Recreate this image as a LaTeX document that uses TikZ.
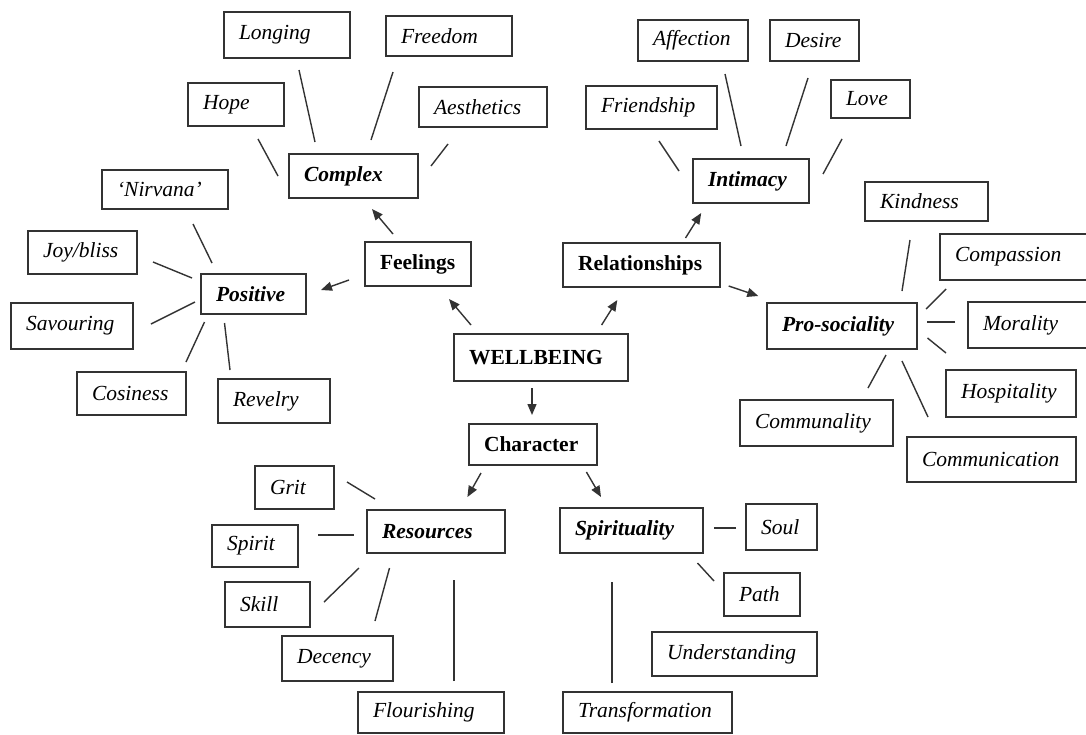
\documentclass[tikz,border=0pt]{standalone}
\usepackage{fontspec}
\setmainfont{Liberation Serif}
\usetikzlibrary{arrows.meta}
\newcommand\mybox[7]{%
  \pgfmathsetmacro\mbw{#4-#2-30}%
  \pgfmathsetmacro\mbh{#5-#3}%
  \node[#6, text width=\mbw pt, minimum height=\mbh pt] (#1) at ({(#2+#4)/2},{(#3+#5)/2}) {#7};%
}
\begin{document}
\begin{tikzpicture}[x=1pt,y=-1pt,
  bx/.style={draw=black!80, line width=1.4pt, inner xsep=15pt, inner ysep=0pt, align=left},
  itm/.style={bx, font=\fontsize{21.5}{24}\selectfont\itshape},
  sub/.style={bx, font=\fontsize{21.5}{24}\selectfont\bfseries\itshape},
  mainb/.style={bx, font=\fontsize{21.5}{24}\selectfont\bfseries},
  conn/.style={draw=black!80, line width=1.4pt},
  arr/.style={conn, -{Triangle[length=11pt,width=9pt]}}
]
\useasboundingbox[fill=white] (0,0) rectangle (1086,734);
% ---- Feelings cluster
\mybox{longing}{224}{12}{350}{58}{itm}{Longing}
\mybox{freedom}{386}{16}{512}{56}{itm}{Freedom}
\mybox{hope}{188}{83}{284}{126}{itm}{Hope}
\mybox{aesthetics}{419}{87}{547}{127}{itm}{Aesthetics}
\mybox{complex}{289}{154}{418}{198}{sub}{Complex}
\mybox{nirvana}{102}{170}{228}{209}{itm}{‘Nirvana’}
\mybox{joy}{28}{231}{137}{274}{itm}{Joy/bliss}
\mybox{feelings}{365}{242}{471}{286}{mainb}{Feelings}
\mybox{positive}{201}{274}{306}{314}{sub}{Positive}
\mybox{savouring}{11}{303}{133}{349}{itm}{Savouring}
\mybox{cosiness}{77}{372}{186}{415}{itm}{Cosiness}
\mybox{revelry}{218}{379}{330}{423}{itm}{Revelry}
\mybox{wellbeing}{454}{334}{628}{381}{mainb}{WELLBEING}
% ---- Relationships cluster
\mybox{affection}{638}{20}{748}{61}{itm}{Affection}
\mybox{desire}{770}{20}{859}{61}{itm}{Desire}
\mybox{friendship}{586}{86}{717}{129}{itm}{Friendship}
\mybox{love}{831}{80}{910}{118}{itm}{Love}
\mybox{intimacy}{693}{159}{809}{203}{sub}{Intimacy}
\mybox{kindness}{865}{182}{988}{221}{itm}{Kindness}
\mybox{compassion}{940}{234}{1090}{280}{itm}{Compassion}
\mybox{relationships}{563}{243}{720}{287}{mainb}{Relationships}
\mybox{prosocial}{767}{303}{917}{349}{sub}{Pro-sociality}
\mybox{morality}{968}{302}{1090}{348}{itm}{Morality}
\mybox{hospitality}{946}{370}{1076}{417}{itm}{Hospitality}
\mybox{communality}{740}{400}{893}{446}{itm}{Communality}
\mybox{communication}{907}{437}{1076}{482}{itm}{Communication}
% ---- Character cluster
\mybox{character}{469}{424}{597}{465}{mainb}{Character}
\mybox{grit}{255}{466}{334}{509}{itm}{Grit}
\mybox{resources}{367}{510}{505}{553}{sub}{Resources}
\mybox{spirituality}{560}{508}{703}{553}{sub}{Spirituality}
\mybox{soul}{746}{504}{817}{550}{itm}{Soul}
\mybox{spirit}{212}{525}{298}{567}{itm}{Spirit}
\mybox{skill}{225}{582}{310}{627}{itm}{Skill}
\mybox{path}{724}{573}{800}{616}{itm}{Path}
\mybox{decency}{282}{636}{393}{681}{itm}{Decency}
\mybox{understanding}{652}{632}{817}{676}{itm}{Understanding}
\mybox{flourishing}{358}{692}{504}{733}{itm}{Flourishing}
\mybox{transformation}{563}{692}{732}{733}{itm}{Transformation}
% ---- connectors: Feelings
\draw[conn] ([shift={(12,35)}]longing.center) -- ([shift={(-38.5,-34)}]complex.center);
\draw[conn] ([shift={(-56,36)}]freedom.center) -- ([shift={(17.5,-36)}]complex.center);
\draw[conn] ([shift={(22,34.5)}]hope.center) -- ([shift={(-75.5,0)}]complex.center);
\draw[conn] ([shift={(-35,37)}]aesthetics.center) -- ([shift={(77.5,-10)}]complex.center);
\draw[arr] ([shift={(-25,-30)}]feelings.center) -- ([shift={(18.5,33)}]complex.center);
\draw[conn] ([shift={(28,34.5)}]nirvana.center) -- ([shift={(-41.5,-31)}]positive.center);
\draw[conn] ([shift={(70.5,9.5)}]joy.center) -- ([shift={(-61.5,-16)}]positive.center);
\draw[conn] ([shift={(79,-2)}]savouring.center) -- ([shift={(-58.5,8)}]positive.center);
\draw[conn] ([shift={(54.5,-31.5)}]cosiness.center) -- ([shift={(-49,28)}]positive.center);
\draw[conn] ([shift={(-44,-31)}]revelry.center) -- ([shift={(-29,29)}]positive.center);
\draw[arr] ([shift={(-69,16)}]feelings.center) -- ([shift={(67.5,-4)}]positive.center);
\draw[arr] ([shift={(-70,-32.5)}]wellbeing.center) -- ([shift={(31,35)}]feelings.center);
\draw[arr] ([shift={(-9,30.5)}]wellbeing.center) -- ([shift={(-1,-29.5)}]character.center);
% ---- connectors: Relationships
\draw[arr] ([shift={(60.6,-32.5)}]wellbeing.center) -- ([shift={(-24.2,35)}]relationships.center);
\draw[arr] ([shift={(44,-27)}]relationships.center) -- ([shift={(-49.8,32)}]intimacy.center);
\draw[arr] ([shift={(87.2,21)}]relationships.center) -- ([shift={(-83.7,-30)}]prosocial.center);
\draw[conn] ([shift={(7.5,33.5)}]friendship.center) -- ([shift={(-72,-10)}]intimacy.center);
\draw[conn] ([shift={(32,33.5)}]affection.center) -- ([shift={(-10,-35)}]intimacy.center);
\draw[conn] ([shift={(-6.5,37.5)}]desire.center) -- ([shift={(35,-35)}]intimacy.center);
\draw[conn] ([shift={(-28.5,40)}]love.center) -- ([shift={(72,-7)}]intimacy.center);
\draw[conn] ([shift={(-16.5,38.5)}]kindness.center) -- ([shift={(60,-35)}]prosocial.center);
\draw[conn] ([shift={(-69,32)}]compassion.center) -- ([shift={(84,-17)}]prosocial.center);
\draw[conn] ([shift={(-74,-3)}]morality.center) -- ([shift={(85,-4)}]prosocial.center);
\draw[conn] ([shift={(-65,-40.5)}]hospitality.center) -- ([shift={(85.5,12)}]prosocial.center);
\draw[conn] ([shift={(51.5,-35)}]communality.center) -- ([shift={(44,29)}]prosocial.center);
\draw[conn] ([shift={(-63.5,-42.5)}]communication.center) -- ([shift={(60,35)}]prosocial.center);
% ---- connectors: Character
\draw[arr] ([shift={(-52,28.5)}]character.center) -- ([shift={(31.4,-34.5)}]resources.center);
\draw[arr] ([shift={(53.4,27.5)}]character.center) -- ([shift={(-30.5,-33.5)}]spirituality.center);
\draw[conn] ([shift={(52.5,-5.5)}]grit.center) -- ([shift={(-61,-32.5)}]resources.center);
\draw[conn] ([shift={(63,-11)}]spirit.center) -- ([shift={(-82,3.5)}]resources.center);
\draw[conn] ([shift={(56.5,-2.5)}]skill.center) -- ([shift={(-77,36.5)}]resources.center);
\draw[conn] ([shift={(37.5,-37.5)}]decency.center) -- ([shift={(-46.5,36.5)}]resources.center);
\draw[conn] ([shift={(23,-31.5)}]flourishing.center) -- ([shift={(18,48.5)}]resources.center);
\draw[conn] ([shift={(-35.5,-29.5)}]transformation.center) -- ([shift={(-19.5,51.5)}]spirituality.center);
\draw[conn] ([shift={(-45.5,1)}]soul.center) -- ([shift={(82.5,-2.5)}]spirituality.center);
\draw[conn] ([shift={(-48,-13.5)}]path.center) -- ([shift={(66,32.5)}]spirituality.center);
\end{tikzpicture}
\end{document}
